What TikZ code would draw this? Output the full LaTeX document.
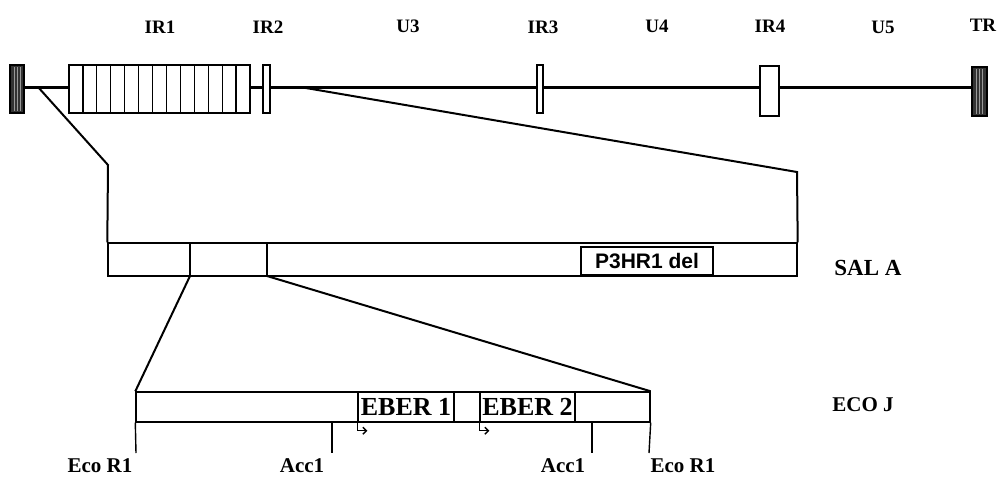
\documentclass[tikz,border=0pt]{standalone}
\usepackage{fontspec}
\setmainfont{Liberation Serif}
\newfontfamily\lsans{Liberation Sans}
\usetikzlibrary{arrows.meta}
\tikzset{
  lbl/.style={font=\fontsize{19}{21}\selectfont\bfseries, inner sep=0},
  blbl/.style={font=\fontsize{21}{23}\selectfont\bfseries, inner sep=0},
  ebr/.style={draw, line width=1.4pt, fill=white, inner sep=0, minimum height=30pt, font=\fontsize{26}{28}\selectfont\bfseries},
  gbox/.style={draw, line width=1.4pt, fill=white, inner sep=0},
  term/.style={draw, line width=1.2pt, fill=black!80, inner sep=0},
  conn/.style={line width=2pt},
  tick/.style={line width=1.4pt},
  prom/.style={line width=1.4pt, -{Straight Barb[length=3.5pt,width=7pt]}}
}
\begin{document}
\begin{tikzpicture}[x=1pt,y=-1pt]
\useasboundingbox (0,0) rectangle (998,477);
% labels top
\node[lbl] (lir1) at (160,27) {IR1};
\node[lbl] (lir2) at (268,27) {IR2};
\node[lbl] (lu3) at (408,26) {U3};
\node[lbl] (lir3) at (543,27) {IR3};
\node[lbl] (lu4) at (657,26) {U4};
\node[lbl] (lir4) at (770,26) {IR4};
\node[lbl] (lu5) at (883,27) {U5};
\node[lbl] (ltr) at (983,25) {TR};
% genome line
\coordinate (gl) at (24,87);
\coordinate (gr) at (972,87);
\draw[line width=3pt] (gl) -- (gr);
% expansion lines to SAL A
\coordinate (e1) at (38,87);
\coordinate (e1b) at (108,165);
\coordinate (e2) at (300,87);
\coordinate (e2b) at (797,172);
\node[gbox, minimum width=689pt, minimum height=33pt] (sal) at (452.5,259.5) {};
\draw[conn] (e1) -- (e1b) -- (sal.north west);
\draw[conn] (e2) -- (e2b) -- (sal.north east);
% terminals
\node[term, minimum width=14pt, minimum height=48pt] (lt) at (17,89) {};
\node[term, minimum width=15pt, minimum height=49pt] (tr) at (979.5,91.5) {};
\foreach \x in {14,17,20} \draw[white!60!black, line width=0.5pt] (\x,67) -- (\x,111);
\foreach \x in {976.5,979.5,982.5} \draw[white!60!black, line width=0.5pt] (\x,69) -- (\x,114);
% IR boxes
\node[gbox, minimum width=181pt, minimum height=48pt] (ir1) at (159.5,89) {};
\foreach \k in {1,...,12} \draw[line width=1.2pt] ({69+\k*181/13},65) -- ({69+\k*181/13},113);
\node[gbox, minimum width=7pt, minimum height=48pt] (ir2) at (266.5,89) {};
\node[gbox, minimum width=6pt, minimum height=48pt] (ir3) at (540,89) {};
\node[gbox, minimum width=19pt, minimum height=50pt] (ir4) at (769.5,91) {};
% SAL A inner
\draw[gbox] (190,243) coordinate (s1t) -- (190,276) coordinate (s1b);
\draw[gbox] (267,243) coordinate (s2t) -- (267,276) coordinate (s2b);
\node[gbox, minimum width=132pt, minimum height=28pt, font=\lsans\fontsize{21}{23}\selectfont\bfseries] (p3) at (647,261) {P3HR1 del};
\node[blbl, font=\fontsize{23}{25}\selectfont\bfseries] (lsal) at (868,268) {SAL A};
% ECO J
\node[gbox, minimum width=514pt, minimum height=30pt] (eco) at (393,407) {};
\draw[conn] (s1b) -- (eco.north west);
\draw[conn] (s2b) -- (eco.north east);
\node[ebr, minimum width=96pt] (eb1) at (406,407) {EBER 1};
\node[ebr, minimum width=95pt] (eb2) at (527.5,407) {EBER 2};
\node[blbl] (leco) at (863,405) {ECO J};
% ticks
\coordinate (t1) at (136,453);
\coordinate (t2) at (332,453);
\coordinate (t3) at (592,453);
\coordinate (t4) at (649,453);
\draw[tick] (eco.south west) -- (t1);
\draw[tick] (332,422) -- (t2);
\draw[tick] (592,422) -- (t3);
\draw[tick] (eco.south east) -- (t4);
% promoters
\draw[prom] (eb1.south west) -- ++(0,8) -- ++(10,0);
\draw[prom] (eb2.south west) -- ++(0,8) -- ++(10,0);
% bottom labels
\node[blbl] (le1) at (100,466) {Eco R1};
\node[blbl] (la1) at (302,466) {Acc1};
\node[blbl] (la2) at (563,466) {Acc1};
\node[blbl] (le2) at (683,466) {Eco R1};
\end{tikzpicture}
\end{document}
